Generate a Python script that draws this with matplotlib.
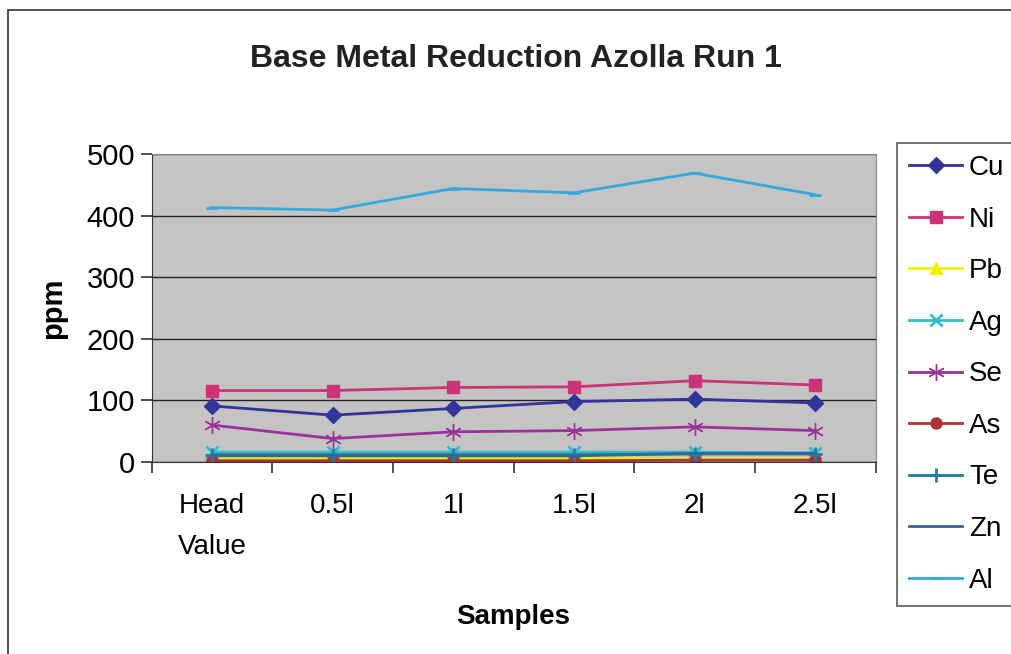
import matplotlib
matplotlib.use("Agg")
import matplotlib.pyplot as plt
from matplotlib.patches import Rectangle

plt.rcParams['font.family'] = ['Liberation Sans', 'DejaVu Sans']

categories = ["Head\nValue", "0.5l", "1l", "1.5l", "2l", "2.5l"]
cu = [91, 76, 87, 98, 102, 96]
ni = [116, 116, 121, 122, 132, 125]
pb = [7, 7, 6, 6, 5, 5]
ag = [16, 16, 16, 16, 16, 15]
se = [60, 38, 49, 51, 57, 51]
as_ = [2, 2, 2, 2, 3, 3]
te = [12, 12, 12, 12, 13, 13]
zn = [10, 10, 10, 10, 14, 14]
al = [413, 409, 444, 437, 469, 434]

series = [
    ("Cu", cu, "#333399", "D", 8),
    ("Ni", ni, "#cc3377", "s", 9),
    ("Pb", pb, "#f2f200", "^", 9),
    ("Ag", ag, "#33bbcc", "x", 9),
    ("Se", se, "#993399", (6, 2, 0), 12),
    ("As", as_, "#aa3333", "o", 8),
    ("Te", te, "#1f7fa5", "+", 10),
    ("Zn", zn, "#336699", "None", 6),
    ("Al", al, "#33aadd", "_", 8),
]

fig = plt.figure(figsize=(10.11, 6.54), dpi=100)
fig.patches.append(Rectangle((0.008, -0.01), 1.1, 0.995, transform=fig.transFigure,
                             fill=False, edgecolor="#333333", linewidth=1.2))

ax = fig.add_axes([0.150, 0.2936, 0.716, 0.4709])
ax.set_facecolor("#c4c4c4")
x = list(range(len(categories)))
for name, vals, col, mk, ms in series:
    ax.plot(x, vals, color=col, marker=mk, markersize=ms, linewidth=2,
            markeredgewidth=2 if mk in ("x", "+", "_") else 1,
            markeredgecolor=col, label=name)

ax.set_xlim(-0.5, 5.5)
ax.set_ylim(0, 500)
ax.set_yticks([0, 100, 200, 300, 400, 500])
ax.yaxis.grid(True, color="#222222", linewidth=1)
ax.set_axisbelow(True)
ax.set_xticks([i + 0.5 for i in range(-1, 6)], minor=False)
ax.set_xticklabels([])
ax.set_xticks(x, minor=True)
ax.set_xticklabels(categories, minor=True)
ax.tick_params(axis="x", which="minor", length=0, labelsize=20, pad=22)
ax.tick_params(axis="x", which="major", length=8, width=1.2, direction="out", color="#333333")
ax.tick_params(axis="y", labelsize=21, length=8, width=1.2, color="#333333", pad=4)
for lbl in ax.get_xticklabels(minor=True):
    lbl.set_linespacing(1.75)
for s in ["top", "right"]:
    ax.spines[s].set_color("#888888")
ax.spines["left"].set_color("#333333")
ax.spines["bottom"].set_color("#333333")

ax.set_ylabel("ppm", fontsize=21, fontweight="bold", labelpad=14)
ax.set_xlabel("Samples", fontsize=20, fontweight="bold", labelpad=32)
fig.text(0.51, 0.91, "Base Metal Reduction Azolla Run 1", fontsize=23, fontweight="bold",
         ha="center", va="center", color="#222222")

leg = fig.legend(loc="upper left", bbox_to_anchor=(0.887, 0.782), fontsize=20,
                 frameon=True, fancybox=False, edgecolor="#333333", handlelength=1.9,
                 handletextpad=0.25, labelspacing=0.92, borderpad=0.45, borderaxespad=0)
leg.get_frame().set_linewidth(1.2)

fig.savefig("out.png", dpi=100)
